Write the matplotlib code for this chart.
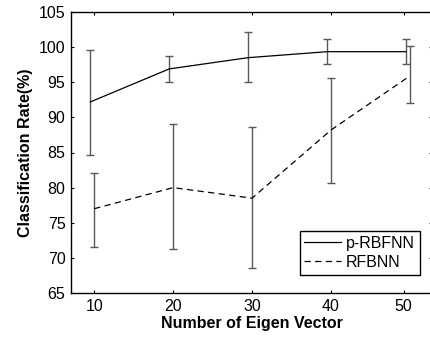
import numpy as np
import matplotlib
matplotlib.use("Agg")
import matplotlib.pyplot as plt
from matplotlib.lines import Line2D

plt.rcParams['font.family'] = ['Liberation Sans', 'DejaVu Sans']

# number of eigen vectors
n_eigen = [10, 20, 30, 40, 50]
tick_pos = [10, 20, 30, 40, 49.2]
tick_labels = ["10", "20", "30", "40", "50"]

# p-RBFNN: mean, lower and upper ends of the error bars
prbf_mean = [92.2, 96.9, 98.5, 99.35, 99.35]
prbf_low = [84.6, 95.1, 95.0, 97.6, 97.6]
prbf_high = [99.6, 98.7, 102.1, 101.2, 101.2]

# RFBNN
rfb_mean = [77.0, 80.0, 78.5, 88.2, 95.9]
rfb_low = [71.6, 71.2, 68.5, 80.6, 92.1]
rfb_high = [82.1, 89.0, 88.6, 95.6, 100.1]

x = np.array(n_eigen, dtype=float)
x_p = x - 0.5  # small shift so the bars do not overlap

pm = np.array(prbf_mean)
rm = np.array(rfb_mean)
p_err = [pm - np.array(prbf_low), np.array(prbf_high) - pm]
r_err = [rm - np.array(rfb_low), np.array(rfb_high) - rm]

dash = (0, (5, 3.5))

fig = plt.figure(figsize=(4.30, 3.38), dpi=100)
ax = fig.add_axes([71 / 430, 45 / 338, 361 / 430, 281 / 338])

ax.errorbar(x_p, pm, yerr=p_err, color="black", lw=0.9, ecolor="0.35",
            elinewidth=1.0, capsize=3.2, capthick=1.0)
ax.errorbar(x, rm, yerr=r_err, color="black", lw=0.9, ls=dash,
            ecolor="0.35", elinewidth=1.0, capsize=3.2, capthick=1.0)

ax.set_xlim(7.05, 52.8)
ax.set_ylim(65, 105)
ax.set_xticks(tick_pos)
ax.set_xticklabels(tick_labels)
ax.set_yticks(np.arange(65, 106, 5))
ax.tick_params(direction="in", top=True, right=True, length=2.5,
               labelsize=11.5, pad=4)
for s in ax.spines.values():
    s.set_linewidth(1.0)

ax.set_xlabel("Number of Eigen Vector", fontsize=11.5, fontweight="bold",
              labelpad=2)
ax.set_ylabel("Classification Rate(%)", fontsize=11.5, fontweight="bold",
              labelpad=4)

# legend without the error bar markers
handles = [Line2D([], [], color="black", lw=0.9),
           Line2D([], [], color="black", lw=0.9, ls=dash)]
leg = ax.legend(handles, ["p-RBFNN", "RFBNN"], loc="lower right",
                bbox_to_anchor=((419.5 - 71) / 361, (338 - 274.5 - 45) / 281),
                fontsize=11.5, fancybox=False, framealpha=1,
                edgecolor="black", handlelength=2.3, handletextpad=0.3,
                borderpad=0.3, labelspacing=0.25, borderaxespad=0)
leg.get_frame().set_linewidth(1.0)

fig.savefig("out.png", dpi=100)
